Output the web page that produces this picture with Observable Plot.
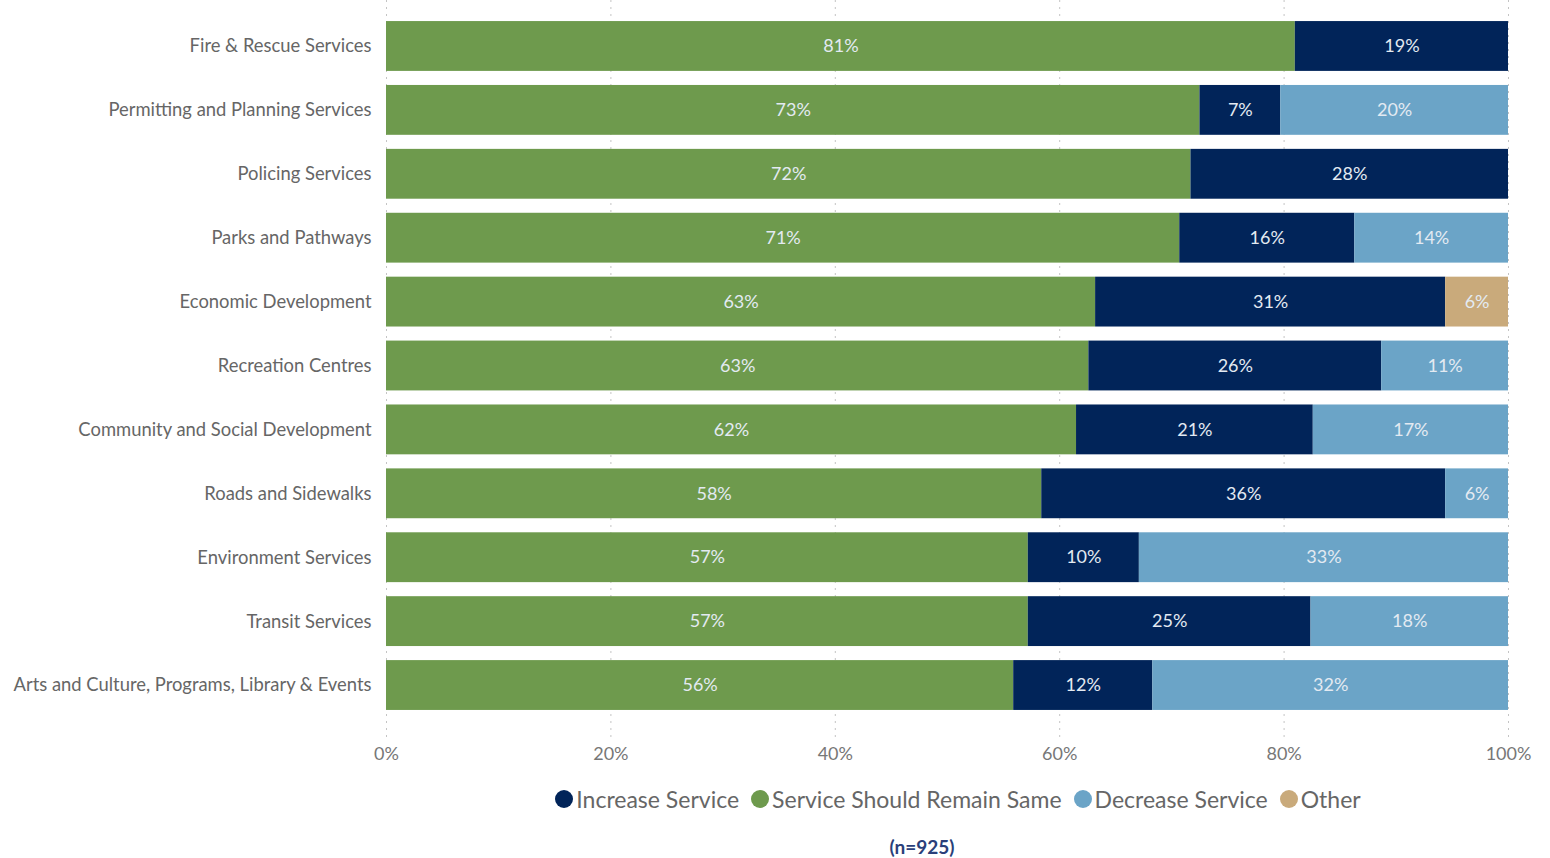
<!DOCTYPE html>
<html>
<head>
<meta charset="utf-8">
<script src="https://cdn.jsdelivr.net/npm/d3@7"></script>
<script src="https://cdn.jsdelivr.net/npm/@observablehq/plot@0.6"></script>
<style>
  html, body { margin: 0; padding: 0; background: #fff; }
  body { width: 1550px; font-family: Lato, "Open Sans", sans-serif; }
  #legend { display: flex; justify-content: center; align-items: center; width: 1550px; box-sizing: border-box; padding-left: 420px; padding-right: 42px; margin-top: 15px; font-size: 23px; color: #666; }
  #legend .item { display: flex; align-items: center; margin-right: 12px; }
  #legend .sw { width: 18px; height: 18px; border-radius: 50%; margin-right: 3px; }
  #note { width: 1550px; box-sizing: border-box; padding-left: 294px; text-align: center; margin-top: 22px; font-size: 19px; font-weight: bold; color: #2a3f7a; }
</style>
</head>
<body>
<div id="chart"></div>
<div id="legend"></div>
<div id="note">(n=925)</div>
<script>
const services = [
  "Fire & Rescue Services",
  "Permitting and Planning Services",
  "Policing Services",
  "Parks and Pathways",
  "Economic Development",
  "Recreation Centres",
  "Community and Social Development",
  "Roads and Sidewalks",
  "Environment Services",
  "Transit Services",
  "Arts and Culture, Programs, Library & Events"
];
const remainSame = [81.0, 72.5, 71.7, 70.7, 63.2, 62.6, 61.5, 58.4, 57.2, 57.2, 55.9];
const increase   = [19.0,  7.2, 28.3, 15.6, 31.2, 26.1, 21.1, 36.0,  9.9, 25.2, 12.4];
const decrease   = [ 0,   20.3,  0,   13.7,  0,   11.3, 17.4,  5.6, 32.9, 17.6, 31.7];
const other      = [ 0,    0,    0,    0,    5.6,  0,    0,    0,    0,    0,    0  ];
const xTicks = [0, 0.2, 0.4, 0.6, 0.8, 1];

const responses = ["Service Should Remain Same", "Increase Service", "Decrease Service", "Other"];
const legendOrder = ["Increase Service", "Service Should Remain Same", "Decrease Service", "Other"];
const colors = {
  "Service Should Remain Same": "#6e9a4d",
  "Increase Service": "#012459",
  "Decrease Service": "#6ba4c7",
  "Other": "#c9aa7b"
};
const series = [remainSame, increase, decrease, other];

const data = [];
services.forEach((s, i) => {
  responses.forEach((r, j) => {
    const v = series[j][i];
    if (v > 0) data.push({service: s, response: r, value: v / 100});
  });
});

const chart = Plot.plot({
  width: 1550,
  height: 770,
  marginLeft: 386,
  marginRight: 42,
  marginTop: 7,
  marginBottom: 46,
  style: {fontFamily: "Lato, 'Open Sans', sans-serif", fontSize: "18px", color: "#666", background: "#fff"},
  x: {domain: [0, 1], ticks: xTicks, tickFormat: d3.format(".0%")},
  y: {domain: services, padding: 0.22, round: false},
  color: {domain: responses, range: responses.map(r => colors[r])},
  marks: [
    Plot.ruleX(xTicks, {stroke: "#c4c4c4", strokeDasharray: "2,5", insetTop: -7, insetBottom: -16}),
    Plot.barX(data, Plot.stackX({x: "value", y: "service", fill: "response", order: responses})),
    Plot.text(data, Plot.stackX({x: "value", y: "service", z: "response", order: responses,
      text: d => Math.round(d.value * 100) + "%", fill: "#e3eaf2", fontSize: 18})),
    Plot.axisX({ticks: xTicks, tickFormat: d3.format(".0%"), tickSize: 0, tickPadding: 23, label: null, fill: "#777", fontSize: 18}),
    Plot.axisY({tickSize: 0, tickPadding: 15, label: null, fill: "#666", fontSize: 18.4})
  ]
});
document.getElementById("chart").appendChild(chart);

const legend = document.getElementById("legend");
legendOrder.forEach(r => {
  const item = document.createElement("div");
  item.className = "item";
  const sw = document.createElement("span");
  sw.className = "sw";
  sw.style.background = colors[r];
  const t = document.createElement("span");
  t.textContent = r;
  item.appendChild(sw);
  item.appendChild(t);
  legend.appendChild(item);
});
</script>
</body>
</html>
